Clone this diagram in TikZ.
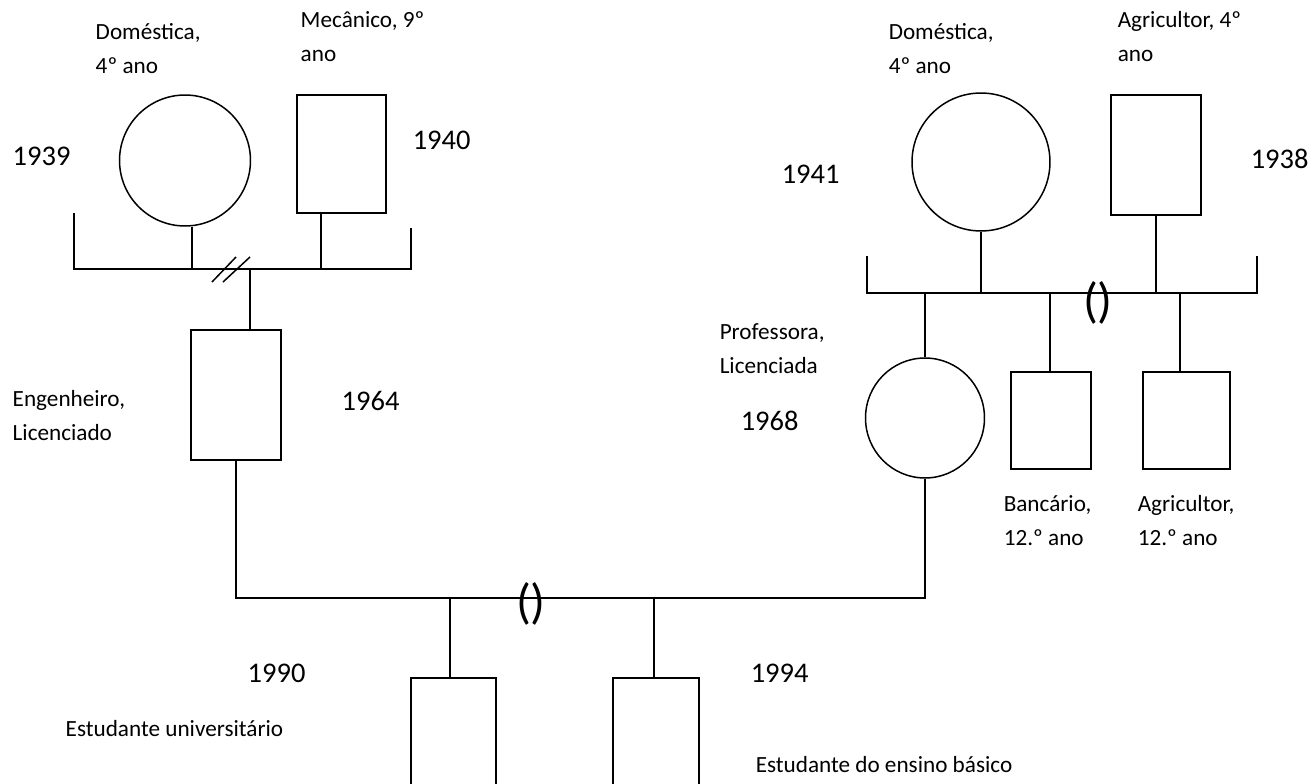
\documentclass[tikz,border=0pt]{standalone}
\usepackage{fontspec}
\setmainfont{Carlito}
\usetikzlibrary{shapes.geometric}

\begin{document}
\begin{tikzpicture}[x=0.02cm,y=-0.02cm,line width=0.85pt,
  fem/.style={draw,ellipse,inner sep=0pt},
  masc/.style={draw,rectangle,inner sep=0pt},
  uniao/.style={line width=1.2pt},
  lbl/.style={anchor=north west,inner sep=0pt,align=left,font=\fontsize{13.2}{19.3}\selectfont},
  ano/.style={anchor=base west,inner sep=0pt,font=\fontsize{16.2}{19}\selectfont},
  par/.style={inner sep=0pt,font=\fontsize{28}{32}\selectfont}]
  \useasboundingbox (0,0) rectangle (1313,784);
  \clip (0,0) rectangle (1313,784);

  \node[fem,minimum width=2.62cm,minimum height=2.62cm]  (avoF)  at (185,160.5) {};
  \node[masc,minimum width=1.78cm,minimum height=2.36cm] (avoM)  at (341.5,154) {};
  \node[fem,minimum width=2.76cm,minimum height=2.76cm]  (avoF2) at (981,162) {};
  \node[masc,minimum width=1.8cm,minimum height=2.4cm]   (avoM2) at (1156,155) {};
  \node[masc,minimum width=1.8cm,minimum height=2.6cm]   (eng)   at (236,395) {};
  \node[fem,minimum width=2.38cm,minimum height=2.4cm]   (prof)  at (925,418) {};
  \node[masc,minimum width=1.6cm,minimum height=1.94cm]  (banc)  at (1051,420.5) {};
  \node[masc,minimum width=1.74cm,minimum height=1.94cm] (agri)  at (1186.5,420.5) {};
  \node[masc,minimum width=1.7cm,minimum height=3.28cm]  (neto1) at (453.5,760) {};
  \node[masc,minimum width=1.72cm,minimum height=3.28cm] (neto2) at (656,760) {};

  \coordinate (uL1) at (74,269);   \coordinate (uL2) at (411,269);
  \coordinate (fF)  at (192,269);  \coordinate (fM)  at (321,269);
  \coordinate (fL)  at (250,269);
  \coordinate (uR1) at (867,293);  \coordinate (uR2) at (1257,293);
  \coordinate (fP)  at (925,293);  \coordinate (fB)  at (1050,293);
  \coordinate (fA)  at (1180,293);
  \coordinate (uB)  at (530,598);
  \coordinate (f1)  at (450,598);  \coordinate (f2)  at (654,598);

  \draw (uL1) ++(0,-56) -- (uL1) -- (uL2) -- ++(0,-41);
  \draw (fF) -- (avoF.south -| fF);
  \draw (fM) -- (avoM.south -| fM);
  \draw (fL) -- (eng.north -| fL);
  \draw ([shift={(-38,13)}]fL) -- ++(24,-25) ([shift={(-27,13)}]fL) -- ++(27,-25);

  \draw (uR1) ++(0,-37) -- (uR1) -- (uR2) -- ++(0,-37);
  \draw (avoF2.south) -- (avoF2.south |- uR1);
  \draw (avoM2.south) -- (avoM2.south |- uR1);
  \draw[uniao] (fB) -- (avoM2.south |- fB);
  \draw (fP) -- (prof.north);
  \draw (fB) -- (banc.north -| fB);
  \draw (fA) -- (agri.north -| fA);
  \node[par] (parR) at (1098,303) {()};

  \draw (eng.south) |- (uB) -| (prof.south);
  \draw[uniao] (uB) ++(-33,0) -- ++(100,0);
  \draw (f1) -- (neto1.north -| f1);
  \draw (f2) -- (neto2.north -| f2);
  \node[par] (parB) at (531,604) {()};

  \node[lbl] (tAvoF)  at (95,23)   {Doméstica,\\4º ano};
  \node[lbl] (tAvoM)  at (300,11)  {Mecânico, 9º\\ano};
  \node[ano] (aAvoF)  at (12,166)  {1939};
  \node[ano] (aAvoM)  at (412,150) {1940};
  \node[lbl] (tAvoF2) at (888,23)  {Doméstica,\\4º ano};
  \node[lbl] (tAvoM2) at (1117,11) {Agricultor, 4º\\ano};
  \node[ano] (aAvoF2) at (781,184) {1941};
  \node[ano] (aAvoM2) at (1250,169) {1938};
  \node[lbl] (tProf)  at (719,323) {Professora,\\Licenciada};
  \node[ano] (aProf)  at (740,430) {1968};
  \node[lbl] (tEng)   at (12,390)  {Engenheiro,\\Licenciado};
  \node[ano] (aEng)   at (341,410) {1964};
  \node[lbl] (tBanc)  at (1003,495) {Bancário,\\12.º ano};
  \node[lbl] (tAgri)  at (1137,495) {Agricultor,\\12.º ano};
  \node[ano] (aNeto1) at (247,682) {1990};
  \node[ano] (aNeto2) at (750,682) {1994};
  \node[lbl] (tNeto1) at (65,720)  {Estudante universitário};
  \node[lbl] (tNeto2) at (755,756) {Estudante do ensino básico};
\end{tikzpicture}
\end{document}
